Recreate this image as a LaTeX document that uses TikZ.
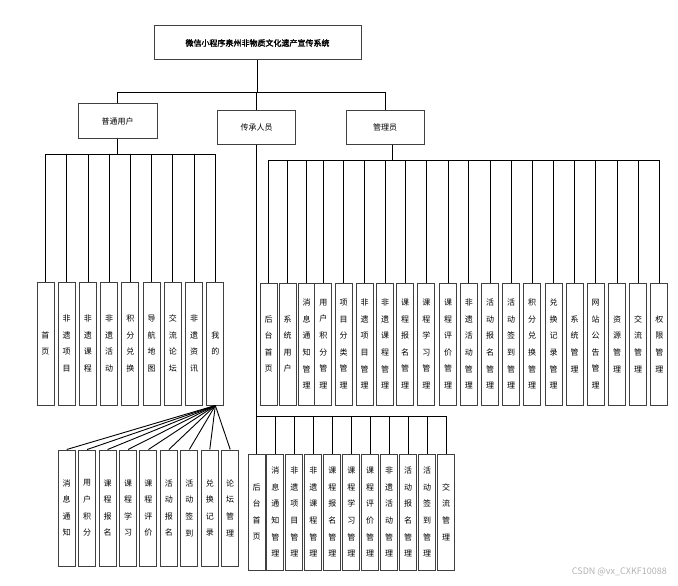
\documentclass[tikz,border=0pt]{standalone}
\usepackage{fontspec}
\newfontfamily\cjk[AutoFakeBold=2]{Noto Sans CJK SC}
\tikzset{
	kasten/.style={draw=black!75,line width=1pt,fill=white,inner sep=0pt,
		font=\cjk\fontsize{8}{10}\selectfont},
	blatt/.style={kasten,minimum width=17,align=center,
		font=\cjk\fontsize{8}{16.6}\selectfont},
	linie/.style={draw=black,line width=0.9pt}
}
\begin{document}
\begin{tikzpicture}[x=1pt,y=-1pt]
	\useasboundingbox (0,0) rectangle (678,586);
%Titel
	\node[kasten,minimum width=207,minimum height=34,
		font=\cjk\bfseries\fontsize{8}{10}\selectfont] (titel) at (257.5,43)
		{微信小程序泉州非物质文化遗产宣传系统};
%Rollen
	\node[kasten,minimum width=79,minimum height=34] (nutzer) at (117.5,121) {普通用户};
	\node[kasten,minimum width=78,minimum height=33] (erbe) at (256.5,127.5) {传承人员};
	\node[kasten,minimum width=78,minimum height=33] (admin) at (385,127.5) {管理员};
	\coordinate (bus) at (257.5,92);
	\draw[linie] (titel.south) -- (bus);
	\foreach \r in {nutzer,erbe,admin}
		\draw[linie] (\r.north) |- (bus);
%普通用户
	\coordinate (nbus) at (117.5,154);
	\draw[linie] (nutzer.south) -- (nbus);
	\foreach \t [count=\i from 0] in {{首\\页},{非\\遗\\项\\目},{非\\遗\\课\\程},
		{非\\遗\\活\\动},{积\\分\\兑\\换},{导\\航\\地\\图},{交\\流\\论\\坛},
		{非\\遗\\资\\讯},{我\\的}}{
		\node[blatt,minimum height=123] (n\i) at (45.5+21.23*\i,343.5) {\t};
		\draw[linie] (n\i.north) |- (nbus);
	}
%我的
	\foreach \t [count=\i from 0] in {{消\\息\\通\\知},{用\\户\\积\\分},{课\\程\\报\\名},
		{课\\程\\学\\习},{课\\程\\评\\价},{活\\动\\报\\名},{活\\动\\签\\到},
		{兑\\换\\记\\录},{论\\坛\\管\\理}}{
		\node[blatt,minimum height=116] (m\i) at (66.7+20.44*\i,508) {\t};
		\draw[linie] (n8.south) -- (m\i.north);
	}
%管理员
	\coordinate (abus) at (392.7,160.7);
	\draw[linie] ([xshift=7.7]admin.south) -- (abus);
	\foreach \x/\t [count=\i] in {268.7/{后\\台\\首\\页},287.7/{系\\统\\用\\户},
		306.7/{消\\息\\通\\知\\管\\理},323.3/{用\\户\\积\\分\\管\\理},
		343.7/{项\\目\\分\\类\\管\\理},364.5/{非\\遗\\项\\目\\管\\理},
		385.2/{非\\遗\\课\\程\\管\\理},405.2/{课\\程\\报\\名\\管\\理},
		426.3/{课\\程\\学\\习\\管\\理},448/{课\\程\\评\\价\\管\\理},
		468.8/{非\\遗\\活\\动\\管\\理},490/{活\\动\\报\\名\\管\\理},
		511.2/{活\\动\\签\\到\\管\\理},532/{积\\分\\兑\\换\\管\\理},
		553.5/{兑\\换\\记\\录\\管\\理},574.5/{系\\统\\管\\理},
		595.7/{网\\站\\公\\告\\管\\理},617/{资\\源\\管\\理},
		638/{交\\流\\管\\理},659.3/{权\\限\\管\\理}}{
		\node[blatt,minimum height=122] (a\i) at (\x,344) {\t};
		\draw[linie] (a\i.north) |- (abus);
	}
%传承人员
	\coordinate (ebus) at (256.5,416.7);
	\draw[linie] (erbe.south) -- (ebus);
	\foreach \t [count=\i from 0] in {{后\\台\\首\\页},{消\\息\\通\\知\\管\\理},
		{非\\遗\\项\\目\\管\\理},{非\\遗\\课\\程\\管\\理},{课\\程\\报\\名\\管\\理},
		{课\\程\\学\\习\\管\\理},{课\\程\\评\\价\\管\\理},{非\\遗\\活\\动\\管\\理},
		{活\\动\\报\\名\\管\\理},{活\\动\\签\\到\\管\\理},{交\\流\\管\\理}}{
		\node[blatt,minimum height=116] (e\i) at (256.5+18.95*\i,512) {\t};
		\draw[linie] (e\i.north) |- (ebus);
	}
%Wasserzeichen
	\node[anchor=east,text=black!30,inner sep=0pt,font=\cjk\fontsize{9}{10}\selectfont]
		(wz) at (667,572) {CSDN @vx\_CXKF10088};
\end{tikzpicture}
\end{document}
